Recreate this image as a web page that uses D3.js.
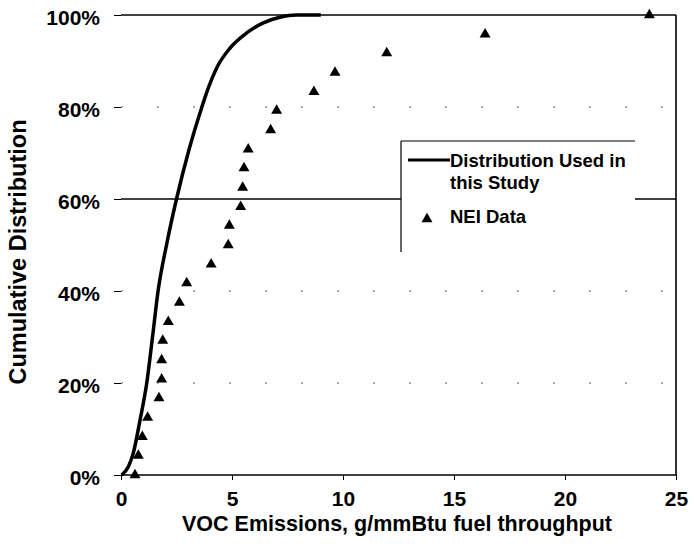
<!DOCTYPE html>
<html>
<head>
<meta charset="utf-8">
<script src="https://cdn.jsdelivr.net/npm/d3@7"></script>
<style>
  html, body { margin: 0; padding: 0; background: #fff; }
  svg { display: block; }
  text { font-family: "Liberation Sans", Arial, sans-serif; font-weight: bold; fill: #000; }
</style>
</head>
<body>
<svg id="chart" width="694" height="554"></svg>
<script>
// ---- data ----
const neiX = [0.63, 0.78, 0.96, 1.2, 1.71, 1.83, 1.83, 1.88, 2.13, 2.63, 2.96, 4.06,
              4.83, 4.88, 5.39, 5.48, 5.54, 5.73, 6.74, 7.01, 8.69, 9.64, 11.97, 16.4, 23.8];
const neiY = [0, 0.042, 0.083, 0.125, 0.167, 0.208, 0.25, 0.292, 0.333, 0.375, 0.417, 0.458,
              0.5, 0.542, 0.583, 0.625, 0.667, 0.708, 0.75, 0.792, 0.833, 0.875, 0.917, 0.958, 1.0];
const distX = [0.03, 0.33, 0.55, 0.86, 1.16, 1.42, 1.67, 2.05, 2.5, 3.05, 3.63, 3.93, 4.31, 4.91, 5.66, 6.41, 7.16, 7.9, 9.0];
const distY = [0, 0.018, 0.047, 0.12, 0.20, 0.30, 0.40, 0.50, 0.60, 0.705, 0.798, 0.841, 0.885, 0.928, 0.961, 0.983, 0.995, 1.0, 1.0];
const xTicks = [0, 5, 10, 15, 20, 25];
const yTicks = [0, 0.2, 0.4, 0.6, 0.8, 1.0];
const solidGrid = [0.6, 1.0];
const dottedGrid = [0.2, 0.4, 0.8];
const xTitle = "VOC Emissions, g/mmBtu fuel throughput";
const yTitle = "Cumulative Distribution";
const legendLabels = [["Distribution Used in", "this Study"], ["NEI Data"]];

// ---- scales ----
const svg = d3.select("#chart");
const x = d3.scaleLinear().domain([0, 25]).range([121, 676]);
const y = d3.scaleLinear().domain([0, 1]).range([475, 15]);

// dotted (faint) gridlines
svg.append("g").selectAll("line").data(dottedGrid).join("line")
  .attr("x1", x(0)).attr("x2", x(25))
  .attr("y1", d => y(d)).attr("y2", d => y(d))
  .attr("stroke", "#555").attr("stroke-width", 1)
  .attr("stroke-dasharray", "2 34");

// solid gridlines
svg.append("g").selectAll("line").data(solidGrid).join("line")
  .attr("x1", x(0)).attr("x2", x(25))
  .attr("y1", d => y(d)).attr("y2", d => y(d))
  .attr("stroke", "#000").attr("stroke-width", 1.6);

// bottom axis line and right border
svg.append("line").attr("x1", x(0)).attr("x2", x(25)).attr("y1", y(0)).attr("y2", y(0))
  .attr("stroke", "#000").attr("stroke-width", 1.6);
svg.append("line").attr("x1", x(25)).attr("x2", x(25)).attr("y1", y(1)).attr("y2", y(0))
  .attr("stroke", "#000").attr("stroke-width", 1.6);

// y axis (labels and short ticks)
const yAxis = d3.axisLeft(y).tickValues(yTicks).tickFormat(d3.format(".0%"))
  .tickSize(7).tickPadding(14);
const gy = svg.append("g").attr("transform", `translate(${x(0)},0)`).call(yAxis);
gy.select(".domain").remove();
gy.selectAll(".tick line").attr("stroke", "#000").attr("stroke-width", 1);
gy.selectAll(".tick text").attr("font-size", 21).attr("font-family", null)
  .attr("dy", "0.45em");

// x axis
const xAxis = d3.axisBottom(x).tickValues(xTicks).tickFormat(d3.format("d"))
  .tickSize(5).tickPadding(11);
const gx = svg.append("g").attr("transform", `translate(0,${y(0)})`).call(xAxis);
gx.select(".domain").remove();
gx.selectAll(".tick line").attr("stroke", "#000").attr("stroke-width", 1);
gx.selectAll(".tick text").attr("font-size", 21).attr("font-family", null);

// axis titles
svg.append("text").attr("x", 397).attr("y", 531).attr("text-anchor", "middle")
  .attr("font-size", 21.5).text(xTitle);
svg.append("text").attr("transform", "translate(26,252) rotate(-90)")
  .attr("text-anchor", "middle").attr("font-size", 23.5).text(yTitle);

// distribution curve
const line = d3.line().x((d, i) => x(distX[i])).y((d, i) => y(distY[i])).curve(d3.curveMonotoneX);
svg.append("path").datum(distX).attr("d", line)
  .attr("fill", "none").attr("stroke", "#000").attr("stroke-width", 3.5)
  .attr("stroke-linejoin", "round");

// NEI triangles
const tri = d3.symbol().type(d3.symbolTriangle).size(52);
svg.append("g").selectAll("path").data(neiX).join("path")
  .attr("d", tri)
  .attr("transform", (d, i) => `translate(${x(d)},${y(neiY[i])})`)
  .attr("fill", "#000");

// legend
const lg = svg.append("g");
lg.append("rect").attr("x", 401).attr("y", 141).attr("width", 234).attr("height", 112)
  .attr("fill", "#fff");
lg.append("line").attr("x1", 401).attr("x2", 635).attr("y1", 141).attr("y2", 141)
  .attr("stroke", "#000").attr("stroke-width", 1.2);
lg.append("line").attr("x1", 401).attr("x2", 401).attr("y1", 141).attr("y2", 252)
  .attr("stroke", "#000").attr("stroke-width", 1.2);
lg.append("line").attr("x1", 408).attr("x2", 450).attr("y1", 160).attr("y2", 160)
  .attr("stroke", "#000").attr("stroke-width", 3);
lg.append("text").attr("x", 450).attr("y", 167).attr("font-size", 18.5).text(legendLabels[0][0]);
lg.append("text").attr("x", 450).attr("y", 189).attr("font-size", 18.5).text(legendLabels[0][1]);
lg.append("path").attr("d", tri).attr("transform", "translate(427,219)").attr("fill", "#000");
lg.append("text").attr("x", 450).attr("y", 223).attr("font-size", 18.5).text(legendLabels[1][0]);
</script>
</body>
</html>
